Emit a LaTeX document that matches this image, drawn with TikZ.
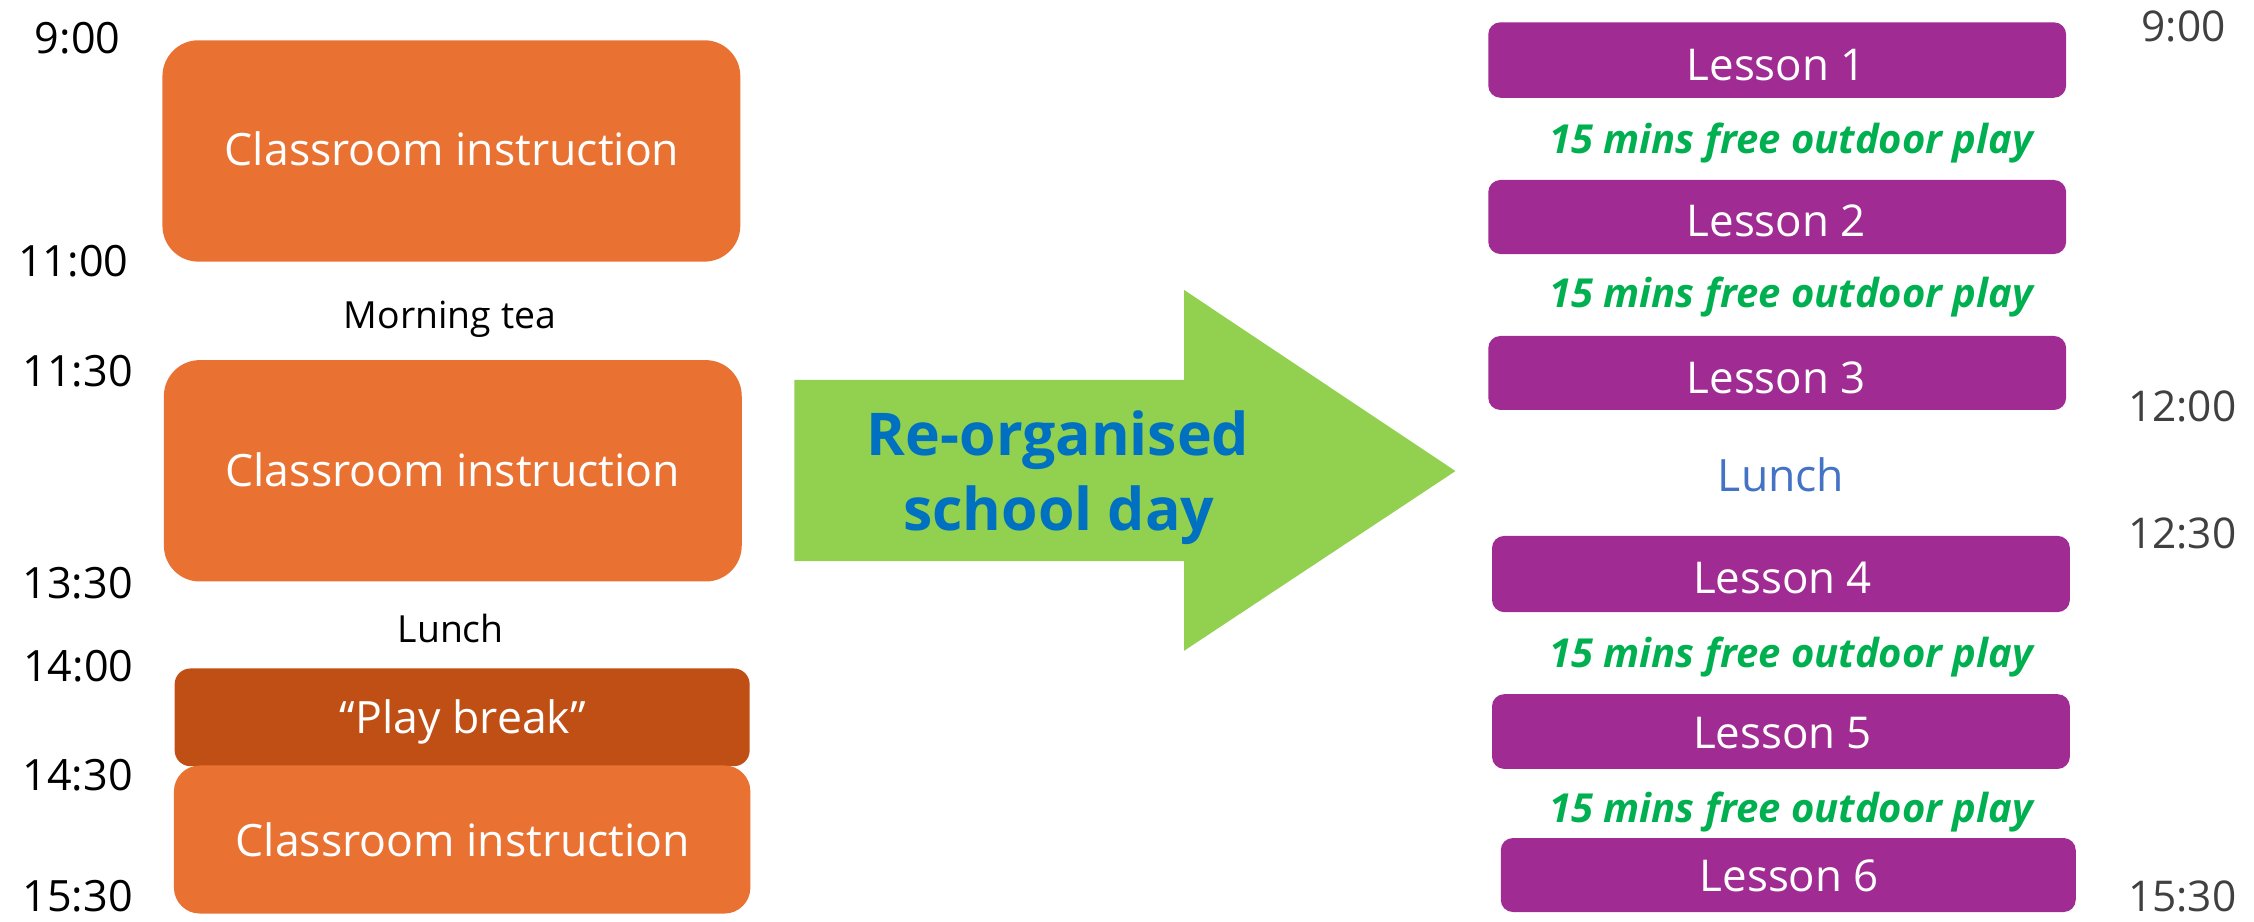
\documentclass[tikz,border=0pt]{standalone}
\usepackage{fontspec}
\setmainfont{Open Sans}
\definecolor{orA}{HTML}{E97132}
\definecolor{orD}{HTML}{C04F15}
\definecolor{puA}{HTML}{A02B93}
\definecolor{grT}{HTML}{00B050}
\definecolor{blT}{HTML}{0070C0}
\definecolor{blL}{HTML}{4472C4}
\definecolor{grA}{HTML}{92D050}
\definecolor{gyT}{HTML}{404040}
\tikzset{
  slot/.style={draw=none, inner sep=0pt, outer sep=0pt},
  obox/.style={slot, fill=orA},
  dbox/.style={slot, fill=orD, rounded corners=11pt},
  pbox/.style={slot, fill=puA, rounded corners=8.5pt},
  tml/.style={anchor=base, text=black, font=\fontsize{30}{33}\selectfont},
  tmr/.style={anchor=base, text=gyT, font=\fontsize{29.5}{32}\selectfont},
  wtxt/.style={anchor=base, text=white, font=\fontsize{31}{34}\selectfont},
  ltxt/.style={anchor=base, text=white, font=\fontsize{30.5}{33}\selectfont},
  btxt/.style={anchor=base, text=black, font=\fontsize{26}{29}\selectfont},
  gtxt/.style={anchor=base, text=grT, font=\bfseries\itshape\fontsize{27.8}{30}\selectfont},
}
\begin{document}
\begin{tikzpicture}[x=1pt,y=-1pt]
\useasboundingbox (0,0) rectangle (1568,641);
% left column boxes
\node[obox, rounded corners=25pt, minimum width=402pt, minimum height=154pt] (c1) at (314,105) {};
\node[obox, rounded corners=25pt, minimum width=402pt, minimum height=154pt] (c2) at (315,327.5) {};
\node[dbox, minimum width=400pt, minimum height=68pt] (pb) at (321.5,499) {};
\node[obox, rounded corners=18pt, minimum width=401pt, minimum height=103pt] (c3) at (321.5,584) {};
\node[wtxt] (c1t) at (314.5,115.3) {Classroom instruction};
\node[wtxt] (c2t) at (315,338.6) {Classroom instruction};
\node[wtxt] (pbt) at (322,510.1) {“Play break”};
\node[wtxt] (c3t) at (322,596) {Classroom instruction};
\node[btxt] (mt) at (313,228.4) {Morning tea};
\node[btxt] (lu) at (313.5,447.1) {Lunch};
% left times
\node[tml] (t900) at (54,37.1) {9:00};
\node[tml] (t1100) at (51,192.5) {11:00};
\node[tml] (t1130) at (54,269) {11:30};
\node[tml] (t1330) at (54,416.2) {13:30};
\node[tml] (t1400) at (54.5,474.2) {14:00};
\node[tml] (t1430) at (54,549.6) {14:30};
\node[tml] (t1530) at (54,634.2) {15:30};
% arrow
\fill[grA] (552.6,264.3) -- (823.7,264.3) -- (823.7,201.7) -- (1012.5,327.7)
  -- (823.7,452.7) -- (823.7,390.3) -- (552.6,390.3) -- cycle;
\node[anchor=base, text=blT, font=\bfseries\fontsize{41}{52}\selectfont] (ar1) at (736,317) {Re-organised};
\node[anchor=base, text=blT, font=\bfseries\fontsize{41}{52}\selectfont] (ar2) at (736.5,369.2) {school day};
% right lessons
\node[pbox, minimum width=402pt, minimum height=52.5pt] (l1) at (1236.3,41.75) {};
\node[pbox, minimum width=402pt, minimum height=51.5pt] (l2) at (1236.3,150.95) {};
\node[pbox, minimum width=402pt, minimum height=51.5pt] (l3) at (1236.3,259.45) {};
\node[pbox, minimum width=402pt, minimum height=53pt] (l4) at (1238.9,399.3) {};
\node[pbox, minimum width=402pt, minimum height=52pt] (l5) at (1238.9,508.9) {};
\node[pbox, minimum width=400pt, minimum height=51.5pt] (l6) at (1244,608.7) {};
\node[ltxt] (l1t) at (1235.6,55.7) {Lesson 1};
\node[ltxt] (l2t) at (1235.6,164.6) {Lesson 2};
\node[ltxt] (l3t) at (1235.6,273.6) {Lesson 3};
\node[ltxt] (l4t) at (1240,413.2) {Lesson 4};
\node[ltxt] (l5t) at (1240,520.6) {Lesson 5};
\node[ltxt] (l6t) at (1244.7,620.3) {Lesson 6};
\node[gtxt] (g1) at (1246,107.1) {15 mins free outdoor play};
\node[gtxt] (g2) at (1246,213.8) {15 mins free outdoor play};
\node[gtxt] (g3) at (1246,464.2) {15 mins free outdoor play};
\node[gtxt] (g4) at (1246,572.1) {15 mins free outdoor play};
\node[anchor=base, text=blL, font=\fontsize{31}{34}\selectfont] (lr) at (1239,342) {Lunch};
% right times
\node[tmr] (r900) at (1519,29) {9:00};
\node[tmr] (r1200) at (1518,293.3) {12:00};
\node[tmr] (r1230) at (1518,381.4) {12:30};
\node[tmr] (r1530) at (1518,634.2) {15:30};
\end{tikzpicture}
\end{document}
